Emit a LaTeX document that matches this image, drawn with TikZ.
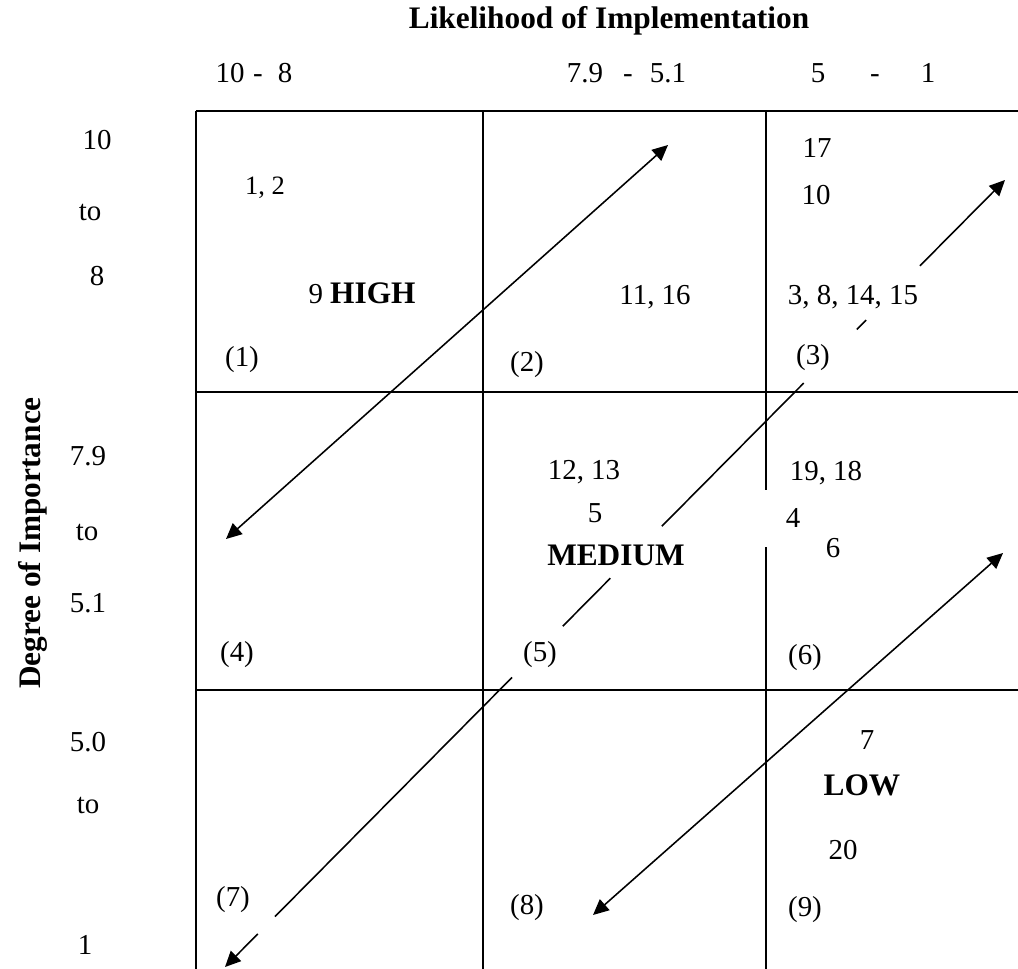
\documentclass[tikz,border=0pt]{standalone}
\usepackage{fontspec}
\setmainfont{Liberation Serif}
\usepackage{tikz}
\usetikzlibrary{arrows.meta,calc}

\begin{document}
\begin{tikzpicture}[x=0.415pt,y=-0.415pt,
  font=\fontsize{12}{14}\selectfont,
  txt/.style={inner sep=0pt},
  head/.style={inner sep=0pt,font=\fontsize{13}{15}\selectfont\bfseries},
  gridline/.style={line width=0.9pt},
  dirline/.style={line width=0.65pt,{Triangle[length=6.5pt,width=6pt]}-{Triangle[length=6.5pt,width=6pt]}}
]
  \path[use as bounding box,clip] (0,0) rectangle (1018,968);

  % grid
  \foreach \y in {111,392,690} {
    \draw[gridline] (196,\y) -- (1030,\y);
  }
  \draw[gridline] (196,111) -- (196,990);
  \draw[gridline] (483,111) -- (483,990);
  \draw[gridline] (766,111) -- (766,490) (766,547) -- (766,990);

  % axis titles
  \node[head] (xtitle) at (609,21) {Likelihood of Implementation};
  \node[head,rotate=90] (ytitle) at (33,543) {Degree of Importance};

  % column ranges
  \foreach \x/\t [count=\i] in {230/10,258/-,285/8,585/7.9,628/-,668/5.1,818/5,875/-,928/1} {
    \node[txt,anchor=base] (col\i) at (\x,83) {\t};
  }
  % row ranges
  \foreach \x/\y/\t [count=\i] in {97/140/10,90/213/to,97/276/8,
      88/456/7.9,87/532/to,88/603/5.1,88/742/5.0,88/805/to,85/945/1} {
    \node[txt] (row\i) at (\x,\y) {\t};
  }

  % cell entries
  \node[txt,font=\fontsize{11}{13}\selectfont] (e12) at (265,188) {1, 2};
  \node[txt] (high) at (362,293) {9 {\fontsize{13}{15}\selectfont\bfseries HIGH}};
  \node[head] (medium) at (616,555) {MEDIUM};
  \node[head] (low) at (862,785) {LOW};
  \foreach \x/\y/\t [count=\i] in {655/297/{11, 16},817/148/17,816/195/10,853/297/{3, 8, 14, 15},
      584/472/{12, 13},595/513/5,826/473/{19, 18},793/518/4,833/548/6,
      867/740/7,843/850/20} {
    \node[txt] (item\i) at (\x,\y) {\t};
  }
  % cell numbers
  \foreach \x/\y [count=\i] in {242/360,527/365,813/358,237/655,540/655,805/658,233/900,527/908,805/910} {
    \node[txt] (cell\i) at (\x,\y) {(\i)};
  }

  % diagonal arrows
  \coordinate (hiSW) at (226,539);
  \coordinate (hiNE) at (668,145);
  \draw[dirline] (hiSW) -- (hiNE);

  \coordinate (loSW) at (593,915);
  \coordinate (loNE) at (1003,553);
  \draw[dirline] (loSW) -- (loNE);

  \coordinate (mdSW) at (225,967);
  \coordinate (mdNE) at (1005,180);
  \draw[line width=0.65pt,{Triangle[length=6.5pt,width=6pt]}-] (mdSW) -- ($(mdSW)!0.042!(mdNE)$);
  \foreach \a/\b in {0.064/0.368,0.433/0.494,0.560/0.742,0.810/0.822} {
    \draw[line width=0.65pt] ($(mdSW)!\a!(mdNE)$) -- ($(mdSW)!\b!(mdNE)$);
  }
  \draw[line width=0.65pt,-{Triangle[length=6.5pt,width=6pt]}] ($(mdSW)!0.891!(mdNE)$) -- (mdNE);
\end{tikzpicture}
\end{document}
